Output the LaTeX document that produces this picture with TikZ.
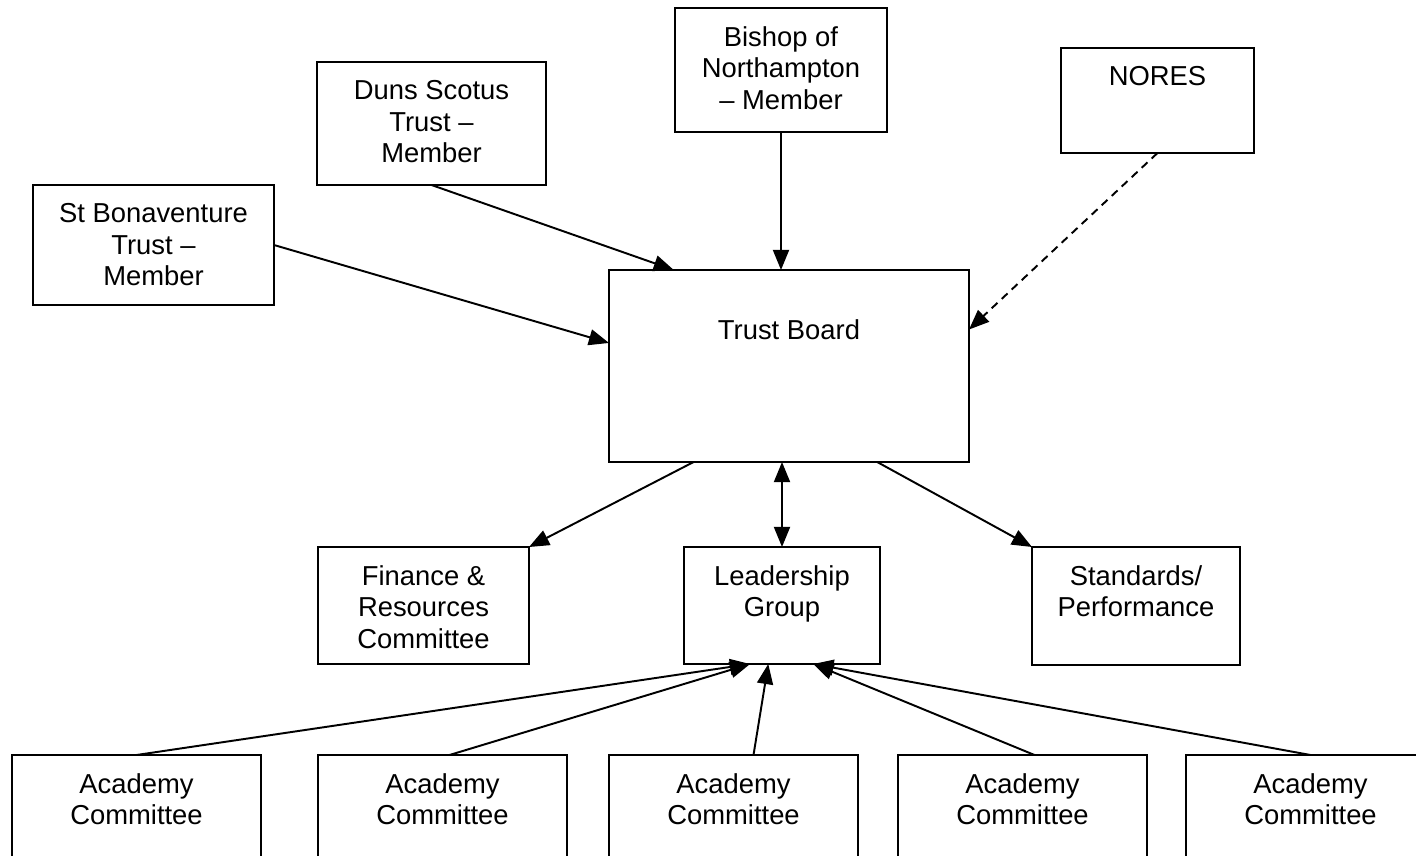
\documentclass[tikz,border=0pt]{standalone}
\usepackage{fontspec}
\setmainfont{Liberation Sans}
\usetikzlibrary{arrows.meta,calc}
\def\pxu{0.438pt}
\tikzset{
  box/.style 2 args={draw, line width=0.8pt, minimum width=#1*\pxu, minimum height=#2*\pxu,
    inner sep=0pt, outer sep=0pt, anchor=north west},
  boxtext/.style={anchor=north, inner sep=0pt, yshift=-18*\pxu, align=center,
    font=\fontsize{12pt}{13.8pt}\selectfont},
  tip/.tip={Triangle[length=8.8pt,width=7pt]},
  arr/.style={-tip, line width=0.85pt},
  dasharr/.style={arr, dash pattern=on 3.5pt off 2.5pt},
}
\begin{document}
\begin{tikzpicture}[x=0.438pt, y=-0.438pt]
    \useasboundingbox (0,0) rectangle (1416,856);
    \clip (0,0) rectangle (1416,856);

    \node[box={241}{120}, label={[boxtext]north:St Bonaventure\\Trust --\\Member}] (stbon) at (33,185) {};
    \node[box={229}{123}, label={[boxtext]north:Duns Scotus\\Trust --\\Member}] (duns) at (317,62) {};
    \node[box={212}{124}, label={[boxtext]north:Bishop of\\Northampton\\-- Member}] (bishop) at (675,8) {};
    \node[box={193}{105}, label={[boxtext]north:NORES}] (nores) at (1061,48) {};
    \node[box={360}{192}, label={[boxtext, yshift=-31*\pxu]north:Trust Board}] (board) at (609,270) {};

    \node[box={211}{117}, label={[boxtext]north:Finance \&\\Resources\\Committee}] (fin) at (318,547) {};
    \node[box={196}{117}, label={[boxtext]north:Leadership\\Group}] (leader) at (684,547) {};
    \node[box={208}{118}, label={[boxtext]north:Standards/\\Performance}] (std) at (1032,547) {};

    \node[box={249}{120}, label={[boxtext]north:Academy\\Committee}] (acA) at (12,755) {};
    \node[box={249}{120}, label={[boxtext]north:Academy\\Committee}] (acB) at (318,755) {};
    \node[box={249}{120}, label={[boxtext]north:Academy\\Committee}] (acC) at (609,755) {};
    \node[box={249}{120}, label={[boxtext]north:Academy\\Committee}] (acD) at (898,755) {};
    \node[box={249}{120}, label={[boxtext]north:Academy\\Committee}] (acE) at (1186,755) {};

    \draw[arr] (stbon.east) -- ($(board.north west)!0.38!(board.south west)$);
    \draw[arr] (duns.south) -- ($(board.north west)!0.18!(board.north east)$);
    \draw[arr] (bishop.south) -- (bishop.south |- board.north);
    \draw[dasharr] (nores.south) -- ($(board.north east)!0.31!(board.south east)$);

    \draw[arr] ($(board.south west)!0.235!(board.south east)$) -- (fin.north east);
    \draw[arr, tip-tip] (leader.north) -- (leader.north |- board.south);
    \draw[arr] ($(board.south west)!0.745!(board.south east)$) -- (std.north west);

    \draw[arr] (acA.north) -- ($(leader.south west)!0.337!(leader.south east)$);
    \draw[arr] ($(acB.north)+(7,0)$) -- ($(leader.south west)!0.337!(leader.south east)$);
    \draw[arr] ($(acC.north)+(20,0)$) -- ($(leader.south west)!0.43!(leader.south east)$);
    \draw[arr] ($(acD.north)+(12,0)$) -- ($(leader.south west)!0.66!(leader.south east)$);
    \draw[arr] (acE.north) -- ($(leader.south west)!0.66!(leader.south east)$);
\end{tikzpicture}
\end{document}
